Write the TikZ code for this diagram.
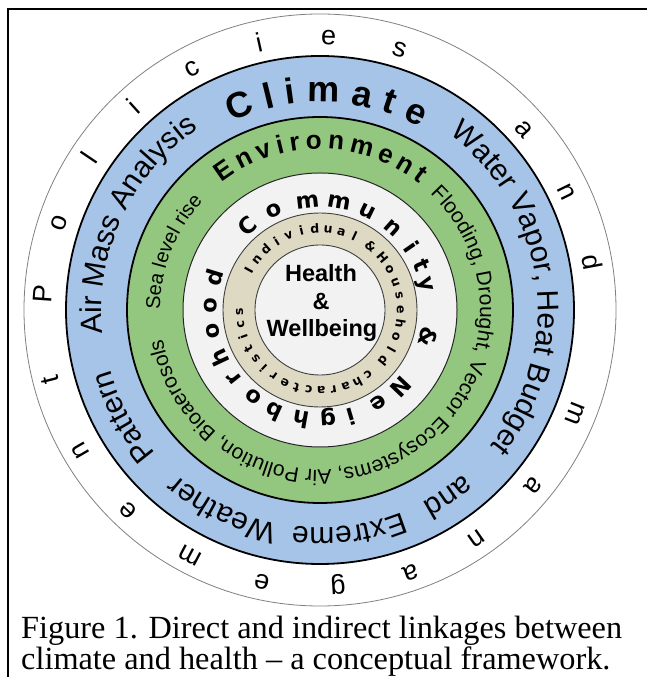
\documentclass[tikz,border=0pt]{standalone}
\usepackage{fontspec}
\setmainfont{Liberation Sans}
\newfontfamily\serifcap{Liberation Serif}
\newfontfamily\roundsans{DejaVu Sans}
\usetikzlibrary{decorations.text}

\definecolor{climateblue}{RGB}{166,195,232}
\definecolor{envgreen}{RGB}{147,199,127}
\definecolor{hhbeige}{RGB}{221,217,195}
\definecolor{corelight}{RGB}{242,242,242}

% letters set one by one round the centre: #1 name prefix, #2 baseline radius,
% #3 font, #4 list of angle/letter (clockwise reading, tops outward)
\newcommand{\ringletters}[4]{%
  \foreach \a/\ch [count=\k] in {#4}{%
    \node[name=#1-\k, font=#3, inner sep=0pt, anchor=base, rotate=\a-90] at (\a:#2) {\ch};
  }%
}

\tikzset{
  arclabel/.style 2 args={decorate, decoration={text along path, text align=center, text={|#1|#2}}},
  ringline/.style={line width=1.8pt, draw=black},
  thinring/.style={line width=0.9pt, draw=black!75},
}

\begin{document}
\begin{tikzpicture}[x=1pt,y=1pt]
\useasboundingbox (0,0) rectangle (646,677);

% frame round the figure
\draw[line width=2pt] (8,-4) -- (8,668) -- (650,668);

\begin{scope}[shift={(320,367)}]
  \coordinate (O) at (0,0);
  % concentric rings
  \draw[gray, line width=0.8pt, fill=white] (O) circle[radius=296];
  \draw[ringline, fill=climateblue] (O) circle[radius=254];
  \draw[ringline, fill=envgreen] (O) circle[radius=193];
  \draw[line width=1pt, draw=black!85, fill=corelight] (O) circle[radius=137];
  \draw[thinring, fill=hhbeige] (O) circle[radius=97];
  \draw[thinring, fill=corelight] (O) circle[radius=65];

  % outer ring: policies and management
  \begin{scope}[shift={(-1,-3)}]
    \ringletters{pol}{268}{\fontsize{27}{27}\selectfont}{176/P,161/o,146/l,132/i,117.5/c,102.5/i,88/e,73/s,42/a,26/n,10.5/d,-21.5/m,-39/a,-55/n,-70.5/a,-86/g,-102/e,-118/m,-134/e,-150/n,-166/t}
  \end{scope}

  % climate ring
  \ringletters{clim}{208}{\bfseries\fontsize{36}{36}\selectfont}{111.6/C,103.6/l,97.8/i,89.0/m,78.8/a,71.4/t,63.9/e}
  \path[arclabel={\fontsize{30}{30}\selectfont}{Air Mass Analysis}] (222:218) arc[start angle=222, end angle=88, radius=218];
  \path[arclabel={\fontsize{30}{30}\selectfont}{Water Vapor, Heat Budget}] (70:218) arc[start angle=70, end angle=-55, radius=218];
  \path[arclabel={\fontsize{30}{30}\selectfont}{and}] (-35:218) arc[start angle=-35, end angle=-76, radius=218];
  \path[arclabel={\fontsize{30}{30}\selectfont}{Extreme}] (-60:218) arc[start angle=-60, end angle=-105, radius=218];
  \path[arclabel={\fontsize{30}{30}\selectfont}{Weather}] (-95:218) arc[start angle=-95, end angle=-137, radius=218];
  \path[arclabel={\fontsize{30}{30}\selectfont}{Pattern}] (-129:218) arc[start angle=-129, end angle=-174, radius=218];

  % environment ring
  \ringletters{env}{161}{\bfseries\fontsize{26}{26}\selectfont}{124.7/E,116.85/n,109.5/v,103.7/i,98.65/r,92.1/o,84.5/n,75.6/m,66.9/e,59.6/n,53.3/t}
  \path[arclabel={\fontsize{20}{20}\selectfont}{Sea level rise}] (185:160) arc[start angle=185, end angle=132, radius=160];
  \path[arclabel={\fontsize{21}{21}\selectfont}{Flooding, Drought, Vector Ecosystems, Air Pollution, Bioaerosols}] (58:160) arc[start angle=58, end angle=-181, radius=160];

  % community ring
  \ringletters{com}{103}{\roundsans\bfseries\fontsize{22.5}{22.5}\selectfont}{131/C,115/o,96.6/m,80/m,64/u,48.5/n,34.6/i,23.7/t,13.4/y,-14/\&,-43.6/N,-58/e,-73.5/i,-85.8/g,-100/h,-114.4/b,-127.7/o,-141.6/r,-154.7/h,-169/o,-182.4/o,-197/d}

  % household ring
  \ringletters{hh}{77}{\roundsans\bfseries\fontsize{12.5}{12.5}\selectfont}{151/I,141.4/n,131.9/d,122.3/i,112.8/v,103.2/i,93.7/d,84.1/u,74.6/a,65/l,51.6/\&,40/H,30.1/o,20.25/u,10.4/s,0.5/e,-9.4/h,-19.25/o,-29.1/l,-39/d,-53.4/c,-62.3/h,-71.3/a,-80.2/r,-89.2/a,-98.1/c,-107/t,-116/e,-124.9/r,-133.9/i,-142.8/s,-151.7/t,-160.7/i,-169.6/c,-178.6/s}

  % core
  \node[font=\bfseries\fontsize{23.5}{23.5}\selectfont, anchor=base, inner sep=0pt] (health) at (1,28) {Health};
  \node[font=\bfseries\fontsize{23.5}{23.5}\selectfont, anchor=base, inner sep=0pt] (amp) at (1,0) {\&};
  \node[font=\bfseries\fontsize{23.5}{23.5}\selectfont, anchor=base, inner sep=0pt] (wellbeing) at (2,-27) {Wellbeing};
\end{scope}

% caption
\node[font=\serifcap\fontsize{32.3}{32.3}\selectfont, anchor=base west, inner sep=0pt] (cap1) at (21,38) {Figure 1. Direct and indirect linkages between};
\node[font=\serifcap\fontsize{32.3}{32.3}\selectfont, anchor=base west, inner sep=0pt] (cap2) at (21,7) {climate and health – a conceptual framework.};
\end{tikzpicture}
\end{document}
